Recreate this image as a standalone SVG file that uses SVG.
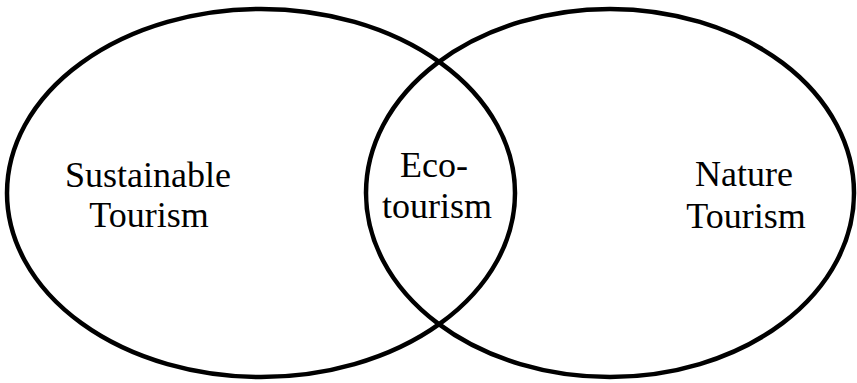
<svg xmlns="http://www.w3.org/2000/svg" width="857" height="383" viewBox="0 0 857 383">
<style>
.c{fill:none;stroke:#000;stroke-width:4.5}
.t{font-family:"Liberation Serif","Times New Roman",serif;font-size:36px;fill:#000;text-anchor:middle}
</style>
<rect width="857" height="383" fill="#fff"/>
<g id="sustainable">
<ellipse class="c" cx="261" cy="193" rx="254" ry="184"/>
<text class="t" x="148" y="187">Sustainable</text>
<text class="t" x="149" y="227">Tourism</text>
</g>
<g id="nature">
<ellipse class="c" cx="610" cy="193" rx="244" ry="184"/>
<text class="t" x="744" y="186">Nature</text>
<text class="t" x="746" y="228">Tourism</text>
</g>
<g id="eco">
<text class="t" x="434" y="177">Eco-</text>
<text class="t" x="437" y="218">tourism</text>
</g>
<g id="connectors"></g>
</svg>
